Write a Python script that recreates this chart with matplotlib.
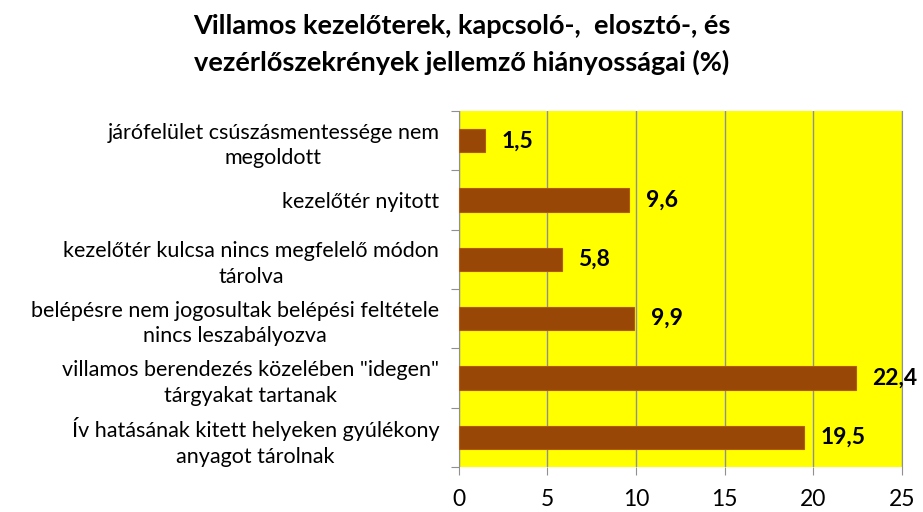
import matplotlib.pyplot as plt

plt.rcParams['font.family'] = ['Lato', 'DejaVu Sans']

# kategóriák fentről lefelé
kategoriak = [
    'járófelület csúszásmentessége nem\nmegoldott',
    'kezelőtér nyitott',
    'kezelőtér kulcsa nincs megfelelő módon\ntárolva',
    'belépésre nem jogosultak belépési feltétele\nnincs leszabályozva',
    'villamos berendezés közelében "idegen"\ntárgyakat tartanak',
    'Ív hatásának kitett helyeken gyúlékony\nanyagot tárolnak',
]
ertekek = [1.5, 9.6, 5.8, 9.9, 22.4, 19.5]
xticks = [0, 5, 10, 15, 20, 25]

fig = plt.figure(figsize=(9.23, 5.12), dpi=100)
ax = fig.add_axes([0.497, 0.088, 0.48, 0.695])
ax.set_facecolor('#ffff00')

pos = list(range(len(kategoriak)))
ax.barh(pos, ertekek, height=0.39, color='#994707', edgecolor='#b35a10', linewidth=0.8, zorder=3)

for p, v in zip(pos, ertekek):
    ax.annotate(f'{v:.1f}'.replace('.', ','), (v, p), xytext=(12, 0), textcoords='offset points',
                va='center', ha='left', fontsize=16.5, fontweight='bold', zorder=4)

ax.set_xlim(0, 25)
ax.set_ylim(len(kategoriak) - 0.5, -0.5)
ax.set_xticks(xticks)
ax.tick_params(axis='x', labelsize=16.5, length=6, color='#909090', pad=10)
ax.grid(axis='x', color='#909090', linewidth=1, zorder=1)

# kategória elválasztó jelek
ax.set_yticks([p - 0.5 for p in pos] + [len(pos) - 0.5])
ax.set_yticklabels([])
ax.set_yticks(pos, minor=True)
ax.set_yticklabels(kategoriak, minor=True, fontsize=15.5, ha='right', multialignment='center',
                   linespacing=1.35)
ax.tick_params(axis='y', which='major', length=6, color='#909090')
ax.tick_params(axis='y', which='minor', length=0, pad=14)

for s in ['top', 'bottom']:
    ax.spines[s].set_visible(False)
ax.spines['left'].set_color('#909090')
ax.spines['right'].set_color('#909090')

fig.text(0.5, 0.972, 'Villamos kezelőterek, kapcsoló-,  elosztó-, és\nvezérlőszekrények jellemző hiányosságai (%)',
         ha='center', va='top', fontsize=19.5, fontweight='bold', linespacing=1.55)

fig.savefig('out.png', dpi=100)
